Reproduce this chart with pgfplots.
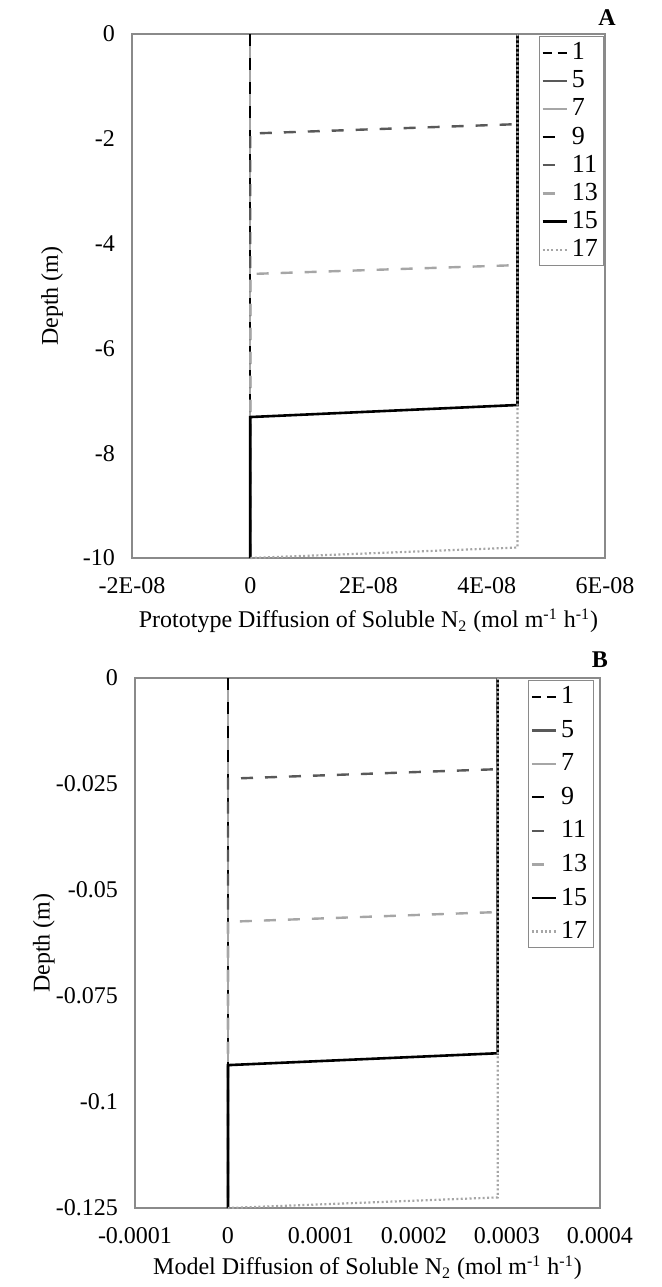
\documentclass[border=0pt]{standalone}
\usepackage{fontspec}
\setmainfont{Liberation Serif}
\usepackage{pgfplots}
\pgfplotsset{compat=1.18}
\definecolor{dg}{HTML}{595959}
\definecolor{lg}{HTML}{A6A6A6}
\definecolor{fr}{HTML}{8A8A8A}
\pgfplotsset{
  myax/.style={
    scale only axis,
    axis line style={fr, line width=0.7pt},
    major tick length=0pt,
    tick style={draw=none},
    /pgf/number format/assume math mode=true,
    scaled x ticks=false, scaled y ticks=false,
    tick label style={font=\fontsize{12}{14}\selectfont},
    label style={font=\fontsize{12}{14}\selectfont},
    xticklabel style={yshift=-6pt},
    yticklabel style={xshift=-5pt},
    legend cell align=left,
    legend style={draw=fr, line width=0.6pt, font=\fontsize{13}{14}\selectfont,
      inner sep=1pt, anchor=north west, row sep=0pt},
    legend image code/.code={\draw[##1] (0pt,0pt) -- (12pt,0pt);},
    clip=false,
  },
  s1/.style={black, line width=1.2pt, dash pattern=on 4.5pt off 3pt},
  s5/.style={dg, line width=1.2pt, solid},
  s7/.style={lg, line width=1.2pt, solid},
  s9/.style={black, line width=1.2pt, dash pattern=on 6pt off 6pt},
  s11/.style={dg, line width=1.2pt, dash pattern=on 6pt off 6pt},
  s13/.style={lg, line width=1.2pt, dash pattern=on 6pt off 6pt},
  s15/.style={black, line width=1.3pt, solid},
  s17/.style={lg, line width=1.1pt, dash pattern=on 1pt off 1.2pt},
}
\begin{document}
\begin{tikzpicture}
\useasboundingbox (0,0) rectangle (331pt,-643.5pt);
% Panel A
\begin{axis}[myax,
  at={(66pt,-17pt)}, anchor=north west,
  width=236.5pt, height=262pt,
  xmin=-2e-8, xmax=6e-8, ymin=-10, ymax=0,
  xtick={-2e-8,0,2e-8,4e-8,6e-8},
  xticklabels={-2E-08,0,2E-08,4E-08,6E-08},
  ytick={-10,-8,-6,-4,-2,0},
  yticklabels={-10,-8,-6,-4,-2,0},
  xlabel={Prototype Diffusion of Soluble N\textsubscript{2} (mol m\textsuperscript{-1} h\textsuperscript{-1})},
  ylabel={Depth (m)},
  x label style={at={(axis description cs:0.5,-0.12)}, anchor=center},
  y label style={at={(axis description cs:-0.169,0.5)}, anchor=center, rotate=0},
  legend style={at={(rel axis cs:0.86,0.996)}},
]
\addplot[s1] coordinates {(0,0) (0,-10)};
\addlegendentry{1}
\addplot[s5] coordinates {(0,0) (0,-10)};
\addlegendentry{5}
\addplot[s7] coordinates {(0,0) (0,-10)};
\addlegendentry{7}
\addplot[s9] coordinates {(0,0) (0,-10)};
\addlegendentry{9}
\addplot[s11] coordinates {(4.52e-8,0) (4.52e-8,-1.72) (0,-1.9) (0,-10)};
\addlegendentry{11}
\addplot[s13] coordinates {(4.52e-8,0) (4.52e-8,-4.41) (0,-4.58) (0,-10)};
\addlegendentry{13}
\addplot[s15] coordinates {(4.52e-8,0) (4.52e-8,-7.08) (0,-7.31) (0,-10)};
\addlegendentry{15}
\addplot[s17] coordinates {(4.52e-8,0) (4.52e-8,-9.8) (0,-10)};
\addlegendentry{17}
\end{axis}
\node[font=\bfseries\fontsize{12}{14}\selectfont] at (303.5pt,-9pt) {A};
% Panel B
\begin{axis}[myax,
  at={(67.5pt,-339pt)}, anchor=north west,
  width=232.5pt, height=265pt,
  xmin=-0.0001, xmax=0.0004, ymin=-0.125, ymax=0,
  xtick={-0.0001,0,0.0001,0.0002,0.0003,0.0004},
  xticklabels={-0.0001,0,0.0001,0.0002,0.0003,0.0004},
  ytick={-0.125,-0.1,-0.075,-0.05,-0.025,0},
  yticklabels={-0.125,-0.1,-0.075,-0.05,-0.025,0},
  xlabel={Model Diffusion of Soluble N\textsubscript{2} (mol m\textsuperscript{-1} h\textsuperscript{-1})},
  ylabel={Depth (m)},
  x label style={at={(axis description cs:0.5,-0.113)}, anchor=center},
  y label style={at={(axis description cs:-0.196,0.5)}, anchor=center, rotate=0},
  legend style={at={(rel axis cs:0.845,0.996)}, row sep=2.7pt},
]
\addplot[s1] coordinates {(0,0) (0,-0.125)};
\addlegendentry{1}
\addplot[s5] coordinates {(0,0) (0,-0.125)};
\addlegendentry{5}
\addplot[s7] coordinates {(0,0) (0,-0.125)};
\addlegendentry{7}
\addplot[s9] coordinates {(0,0) (0,-0.125)};
\addlegendentry{9}
\addplot[s11] coordinates {(2.9e-4,0) (2.9e-4,-0.0215) (0,-0.02375) (0,-0.125)};
\addlegendentry{11}
\addplot[s13] coordinates {(2.9e-4,0) (2.9e-4,-0.0552) (0,-0.0575) (0,-0.125)};
\addlegendentry{13}
\addplot[s15] coordinates {(2.9e-4,0) (2.9e-4,-0.0885) (0,-0.0913) (0,-0.125)};
\addlegendentry{15}
\addplot[s17] coordinates {(2.9e-4,0) (2.9e-4,-0.1225) (0,-0.125)};
\addlegendentry{17}
\end{axis}
\node[font=\bfseries\fontsize{12}{14}\selectfont] at (300pt,-330pt) {B};
\end{tikzpicture}
\end{document}
